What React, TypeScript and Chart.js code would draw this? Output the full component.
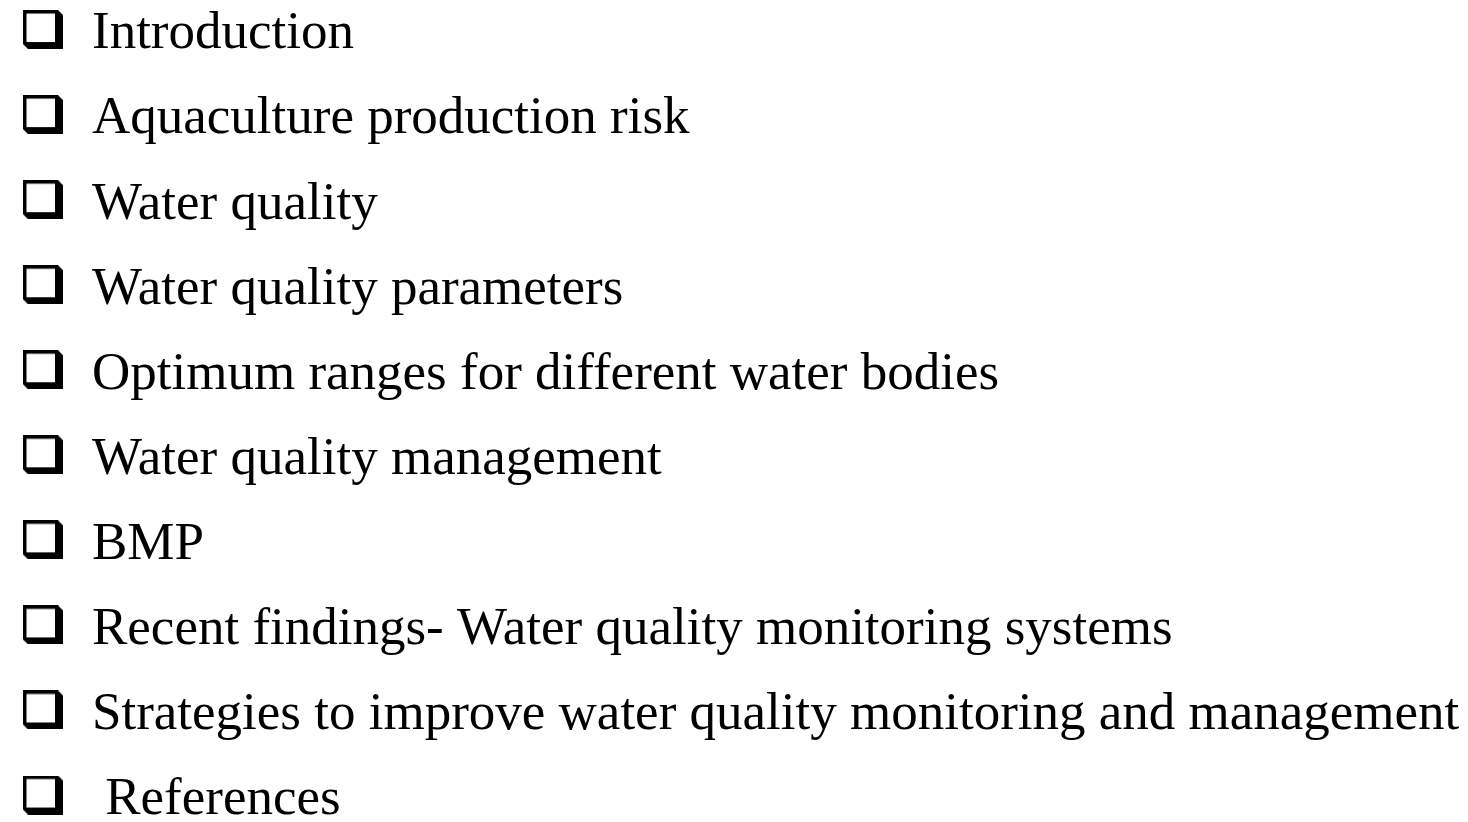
import React, { useEffect, useRef } from "react";
import { Chart, registerables } from "chart.js";

Chart.register(...registerables);

// Outline items (one per row, top to bottom)
const ITEMS: string[] = [
  "Introduction",
  "Aquaculture production risk",
  "Water quality",
  "Water quality parameters",
  "Optimum ranges for different water bodies",
  "Water quality management",
  "BMP",
  "Recent findings- Water quality monitoring systems",
  "Strategies to improve water quality monitoring and management",
  " References",
];
// Row positions (index on the vertical axis)
const ROWS: number[] = [0, 1, 2, 3, 4, 5, 6, 7, 8, 9];
// Bullet column value on the horizontal axis
const BULLET_COL: number[] = [0, 0, 0, 0, 0, 0, 0, 0, 0, 0];

const W = 1468;
const H = 822;

function makeCheckbox(): HTMLCanvasElement {
  const c = document.createElement("canvas");
  c.width = 40;
  c.height = 39;
  const g = c.getContext("2d")!;
  g.fillStyle = "#000";
  g.beginPath();
  g.moveTo(0, 0);
  g.lineTo(35, 0);
  g.lineTo(40, 5);
  g.lineTo(40, 39);
  g.lineTo(5, 39);
  g.lineTo(0, 34);
  g.closePath();
  g.fill();
  g.fillStyle = "#fff";
  g.fillRect(3.5, 3.5, 28.5, 28.5);
  return c;
}

export default function App() {
  const ref = useRef<HTMLCanvasElement | null>(null);

  useEffect(() => {
    document.body.style.margin = "0";
    const canvas = ref.current!;
    const box = makeCheckbox();
    const chart = new Chart(canvas, {
      type: "scatter",
      data: {
        datasets: [
          {
            data: ROWS.map((r, i) => ({ x: BULLET_COL[i], y: r })),
            pointStyle: box as any,
            pointRadius: 10,
            pointHoverRadius: 10,
          },
        ],
      },
      options: {
        animation: false,
        responsive: false,
        events: [],
        layout: { padding: 0, autoPadding: false },
        plugins: { legend: { display: false }, tooltip: { enabled: false } },
        scales: {
          x: { type: "linear", display: false, min: -1, max: 1 },
          y: {
            type: "linear",
            position: "right",
            reverse: true,
            min: -0.347,
            max: 9.317,
            grid: { display: false, drawTicks: false },
            border: { display: false },
            afterBuildTicks: (scale: any) => {
              scale.ticks = ROWS.map((v) => ({ value: v }));
            },
            afterFit: (scale: any) => {
              scale.width = W - 86;
              scale.paddingTop = 0;
              scale.paddingBottom = 0;
            },
            ticks: {
              color: "#000",
              padding: 6,
              labelOffset: 5,
              crossAlign: "near",
              autoSkip: false,
              font: { family: "'Liberation Serif', 'Times New Roman', serif", size: 53 },
              callback: (v: any) => ITEMS[Number(v)] ?? "",
            },
          },
        },
      },
    });
    return () => chart.destroy();
  }, []);

  return (
    <div style={{ position: "fixed", left: 0, top: 0, width: W, height: H, background: "#fff" }}>
      <canvas ref={ref} width={W} height={H} style={{ display: "block" }} />
    </div>
  );
}
